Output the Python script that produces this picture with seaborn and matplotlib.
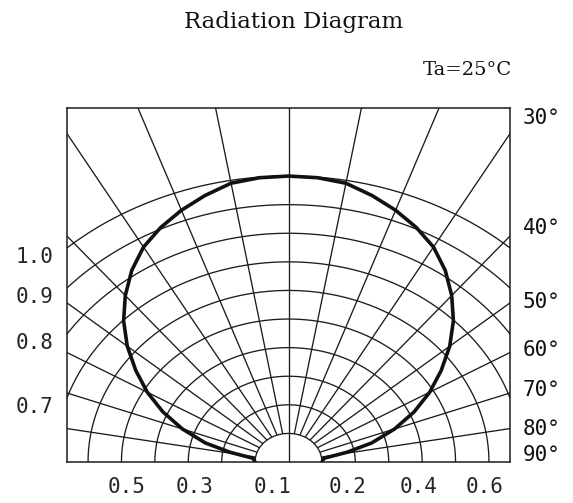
import numpy as np
import pandas as pd
import matplotlib
matplotlib.use("Agg")
import matplotlib.pyplot as plt
import seaborn as sns

# ---------------- data ----------------
title = "Radiation Diagram"
condition = "Ta=25°C"

# relative luminous intensity vs. angle from the optical axis (one side, mirrored)
pattern_angle = [0, 5, 10, 15, 20, 25, 30, 35, 40, 45, 50, 55, 60, 65, 70, 75, 79, 83, 90]
pattern_intensity = [1.000, 0.998, 0.990, 0.965, 0.937, 0.905, 0.868, 0.818, 0.760, 0.698,
                     0.630, 0.558, 0.488, 0.415, 0.338, 0.258, 0.178, 0.107, 0.100]

grid_angles = [0, 10, 20, 30, 40, 50, 60, 70, 80]
grid_levels = [0.1, 0.2, 0.3, 0.4, 0.5, 0.6, 0.7, 0.8, 0.9, 1.0]

left_values = [1.0, 0.9, 0.8, 0.7]
left_labels = ["1.0", "0.9", "0.8", "0.7"]

bottom_labels = ["0.5", "0.3", "0.1", "0.2", "0.4", "0.6"]
bottom_label_pos = [-0.486, -0.282, -0.049, 0.176, 0.388, 0.586]

angle_label_values = [30, 40, 50, 60, 70, 80, 90]
angle_labels = ["30°", "40°", "50°", "60°", "70°", "80°", "90°"]
angle_label_nudge = [16, 8, 1, 3, 3, 0, 7]  # pixels upward

# ---------------- layout ----------------
W = 0.663   # half width of the frame (intensity units)
H = 1.238   # height of the frame

sns.set_style("white")
plt.rcParams["font.family"] = ["DejaVu Sans"]

fig = plt.figure(figsize=(5.73, 5.03), dpi=100)
ax = fig.add_axes([67 / 573, 41 / 503, 443 / 573, 354 / 503])
ax.set_xlim(-W, W)
ax.set_ylim(0, H)

gc = "#1c1c1c"
glw = 0.95

# radial lines
for a in grid_angles:
    t = np.deg2rad(a)
    r0 = 0.0 if a == 0 else 0.1
    r = np.array([r0, 2.0])
    for s in ((1,) if a == 0 else (-1, 1)):
        ax.plot(s * r * np.sin(t), r * np.cos(t), color=gc, lw=glw, solid_capstyle="butt")

# intensity circles
tt = np.deg2rad(np.linspace(-90, 90, 721))
for lv in grid_levels:
    ax.plot(lv * np.sin(tt), lv * np.cos(tt), color=gc, lw=glw)

# radiation pattern
ang = np.array(pattern_angle, dtype=float)
inten = np.array(pattern_intensity, dtype=float)
full_ang = np.concatenate([-ang[::-1], ang[1:]])
full_int = np.concatenate([inten[::-1], inten[1:]])
th = np.deg2rad(full_ang)
df = pd.DataFrame({"x": full_int * np.sin(th), "y": full_int * np.cos(th)})
sns.lineplot(data=df, x="x", y="y", sort=False, estimator=None, ax=ax,
             color="#111111", lw=2.6, solid_joinstyle="round")

for sp in ax.spines.values():
    sp.set_visible(True)
    sp.set_color(gc)
    sp.set_linewidth(1.1)

ax.set_xlabel("")
ax.set_ylabel("")

mono = "DejaVu Sans Mono"
fs = 15

# bottom labels
ax.set_xticks(bottom_label_pos)
ax.set_xticklabels(bottom_labels, family=mono, fontsize=fs)
# left labels at the circles' crossing with the frame
lv = np.array(left_values)
ax.set_yticks(np.sqrt(lv ** 2 - W ** 2) - 0.024)
ax.set_yticklabels(left_labels, family=mono, fontsize=fs)
ax.tick_params(length=0)
ax.tick_params(axis="x", pad=11)
ax.tick_params(axis="y", pad=10)

# angle labels on the right
for a, lab, nd in zip(angle_label_values, angle_labels, angle_label_nudge):
    ye = 0.0 if a == 90 else W / np.tan(np.deg2rad(a))
    ax.annotate(lab, xy=(W, ye), xytext=(13, nd), textcoords="offset pixels",
                ha="left", va="center", family=mono, fontsize=fs, color="#111111",
                annotation_clip=False)

fig.text(294 / 573, 1 - 22 / 503, title, ha="center", va="center",
         family="DejaVu Serif", fontsize=16.5, color="#111111")
fig.text(512 / 573, 1 - 70 / 503, condition, ha="right", va="center",
         family="DejaVu Serif", fontsize=14, color="#111111")

fig.savefig("out.png", dpi=100, facecolor="white")
